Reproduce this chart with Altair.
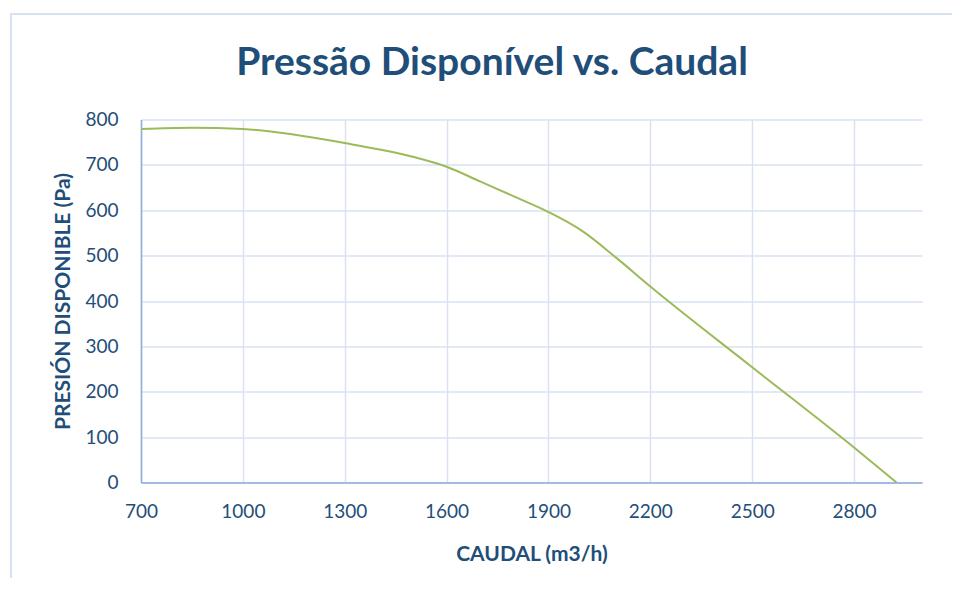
import altair as alt
import pandas as pd

caudal = [700, 850, 1000, 1300, 1500, 1600, 1700, 1800, 1900, 2000, 2100, 2200, 2500, 2800, 2925]
presion = [779, 782, 779, 748, 718, 696, 663, 630, 596, 554, 495, 432, 254, 77, 0]
x_ticks = [700, 1000, 1300, 1600, 1900, 2200, 2500, 2800]
y_ticks = [0, 100, 200, 300, 400, 500, 600, 700, 800]
title_text = "Pressão Disponível vs. Caudal"

df = pd.DataFrame({"caudal": caudal, "presion": presion})

DARK = "#1F4E79"
GRID = "#D9E2F3"
AXIS = "#8FAADC"
FONT = "Lato"

one = pd.DataFrame({"a": [0]})

frame = alt.Chart(one).mark_rect(
    fill=None, stroke="#D6E2F0", strokeWidth=2
).encode(
    x=alt.value(-130), x2=alt.value(900),
    y=alt.value(-105.5), y2=alt.value(520),
)

title = alt.Chart(one).mark_text(
    font=FONT, fontSize=39, fontWeight="bold", color=DARK,
    align="center", baseline="alphabetic"
).encode(
    x=alt.value(351), y=alt.value(-44.5), text=alt.value(title_text)
)

line = alt.Chart(df).mark_line(
    color="#9BBB59", strokeWidth=2, interpolate="monotone"
).encode(
    x=alt.X("caudal:Q",
            scale=alt.Scale(domain=[700, 3000], nice=False, zero=False),
            axis=alt.Axis(values=x_ticks, title="CAUDAL (m3/h)", format="d",
                          labelPadding=20, titlePadding=22, labelFlush=False)),
    y=alt.Y("presion:Q",
            scale=alt.Scale(domain=[0, 800], nice=False),
            axis=alt.Axis(values=y_ticks, title="PRESIÓN DISPONIBLE (Pa)",
                          labelPadding=23, titlePadding=11, labelFlush=False)),
)

chart = alt.layer(frame, line, title).properties(
    width=781, height=363,
    autosize=alt.AutoSizeParams(type="none"),
    padding={"left": 133, "top": 111.5, "right": 30, "bottom": 95},
).configure_view(stroke=None).configure_axis(
    labelFont=FONT, labelFontSize=19, labelColor=DARK,
    titleFont=FONT, titleFontSize=21, titleColor=DARK, titleFontWeight="bold",
    gridColor=GRID, gridWidth=1.5, domainColor=AXIS, domainWidth=1.5,
    ticks=False,
)

chart.save("out.html", embed_options={"renderer": "svg", "actions": False})
